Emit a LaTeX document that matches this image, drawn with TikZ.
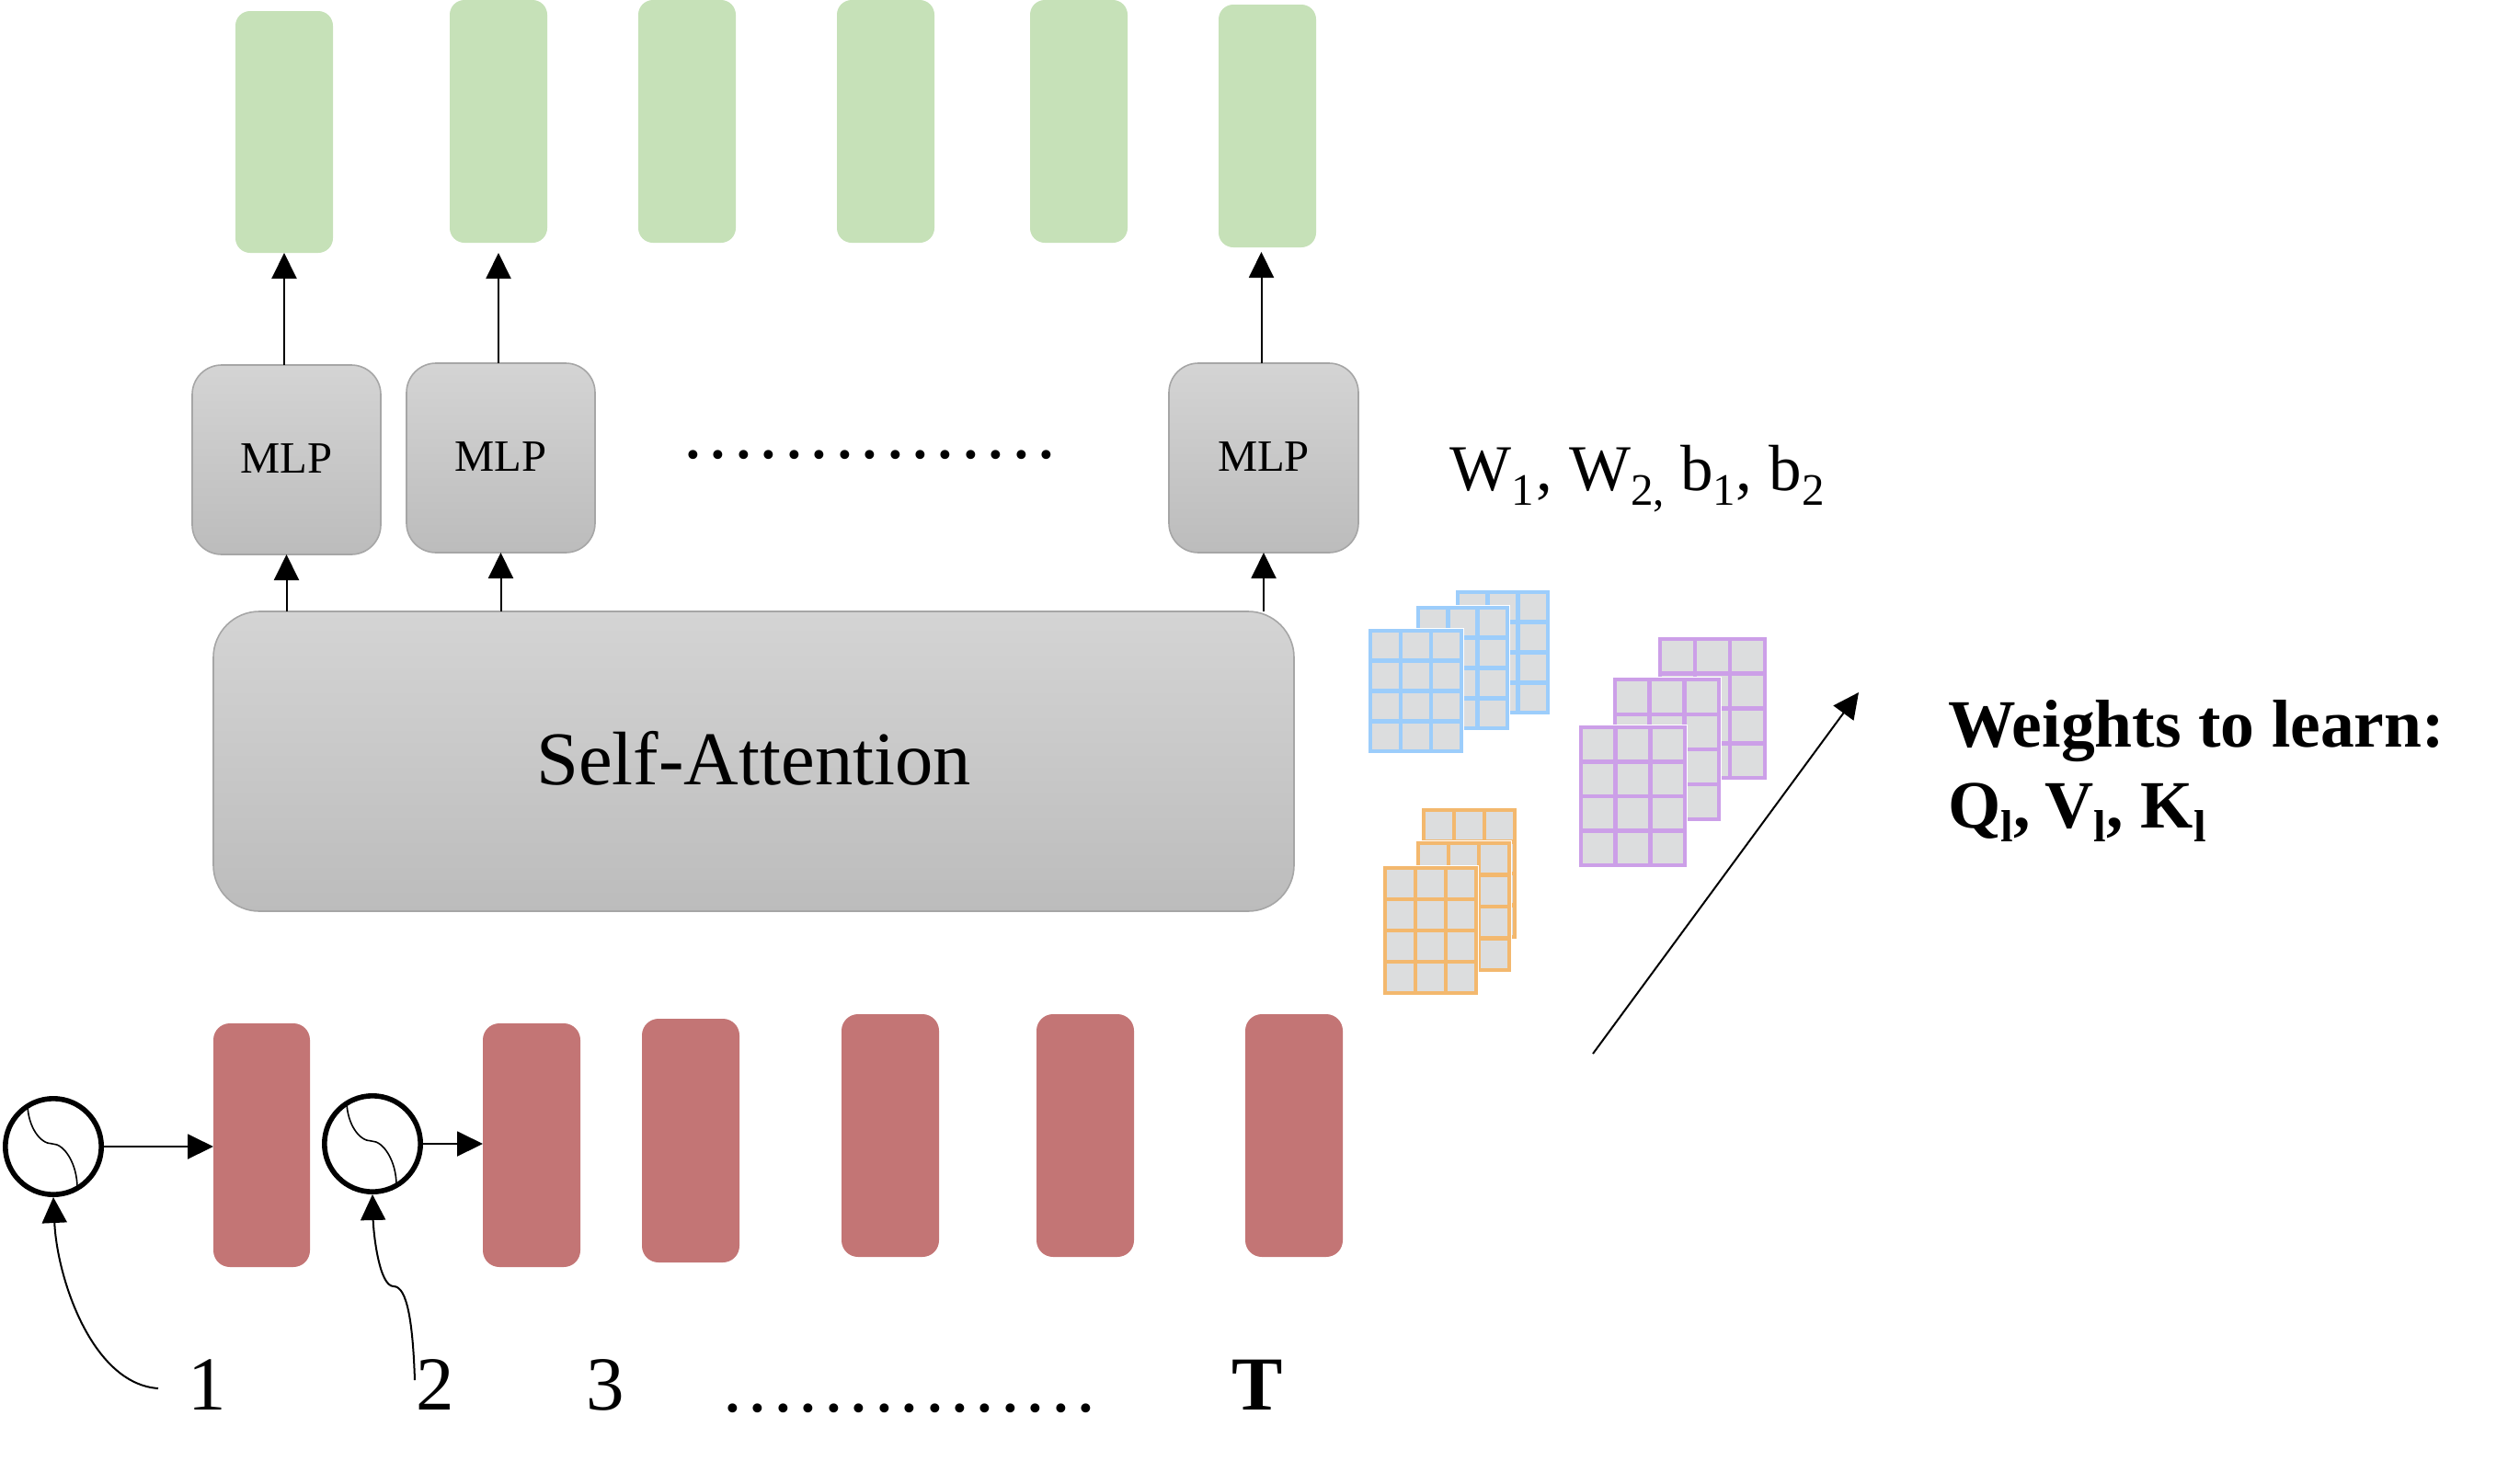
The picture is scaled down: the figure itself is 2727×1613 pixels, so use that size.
\documentclass[tikz,border=0pt]{standalone}
\usepackage{fontspec}
\setmainfont{Liberation Serif}
\usetikzlibrary{arrows.meta}
\definecolor{greenbox}{HTML}{C6E1B8}
\definecolor{redbox}{HTML}{C37575}
\definecolor{gridblue}{HTML}{9CCDFB}
\definecolor{gridpurple}{HTML}{CC9FE8}
\definecolor{gridorange}{HTML}{F3B86E}
\definecolor{cellgrey}{HTML}{DCDDDE}
\definecolor{greyedge}{HTML}{A6A6A6}
\definecolor{greytop}{HTML}{D4D4D4}
\definecolor{greybot}{HTML}{BCBCBC}
\tikzset{
  greenstyle/.style={fill=greenbox,rounded corners=8pt},
  redstyle/.style={fill=redbox,rounded corners=9pt},
  mlpstyle/.style={draw=greyedge,line width=0.8pt,top color=greytop,bottom color=greybot,rounded corners=16pt,font=\fontsize{24.3}{24.3}\selectfont},
  sastyle/.style={draw=greyedge,line width=0.8pt,top color=greytop,bottom color=greybot,rounded corners=25pt,font=\fontsize{41.3}{41.3}\selectfont},
  posstyle/.style={circle,draw=black,line width=2.8pt,fill=white,inner sep=0pt,minimum size=52.2pt},
  arrowline/.style={line width=1pt,-{Triangle[width=13.5pt,length=14pt]}},
  thinline/.style={line width=0.8pt},
  bigtext/.style={font=\fontsize{41.5}{41.5}\selectfont,inner sep=0pt,anchor=base},
  wtext/.style={font=\fontsize{35.5}{35.5}\selectfont,inner sep=0pt,anchor=base west},
  boldtext/.style={font=\bfseries\fontsize{36.8}{36.8}\selectfont,inner sep=0pt,anchor=base west}
}
\newcommand\boxat[7]{\node[#6,inner sep=0pt,outer sep=0pt,minimum width={(#4-#2)*0.5pt},minimum height={(#5-#3)*0.5pt}] (#1) at ({(#2+#4)/2},{(#3+#5)/2}) {#7};}
\newcommand\gridpanel[5]{%
  \fill[white] (#1-1,#2-1) rectangle (#3+1,#4+1);
  \draw[draw=#5,fill=cellgrey,line width=2.4pt] (#1+2,#2+2) rectangle (#3-2,#4-2);
  \foreach \gi in {1,2}{\draw[#5,line width=2.4pt] ({#1+2+(#3-#1-4)*\gi/3},#2+2) -- ({#1+2+(#3-#1-4)*\gi/3},#4-2);}
  \foreach \gj in {1,2,3}{\draw[#5,line width=2.4pt] (#1+2,{#2+2+(#4-#2-4)*\gj/4}) -- (#3-2,{#2+2+(#4-#2-4)*\gj/4});}
}
\newcommand\scurve[1]{\draw[thinline,shift={(#1.center)}] (-28,-44) .. controls (-27,-22) and (-15,-3) .. (-1,-3) .. controls (12,-3) and (26,19) .. (26,45);}
\newcommand\dotrow{.\kern3.35pt.\kern3.35pt.\kern3.35pt.\kern3.35pt.\kern3.35pt.\kern3.35pt.\kern3.35pt.\kern3.35pt.\kern3.35pt.\kern3.35pt.\kern3.35pt.\kern3.35pt.\kern3.35pt.\kern3.35pt.}
\newcommand\subw[1]{\raisebox{-8pt}{\fontsize{24.5}{24.5}\selectfont #1}}
\newcommand\subb[1]{\raisebox{-7.5pt}{\fontsize{24.5}{24.5}\selectfont #1}}
\begin{document}
\begin{tikzpicture}[x=0.5pt,y=-0.5pt]
\useasboundingbox (0,0) rectangle (2727,1613);
% output boxes
\boxat{g1}{256}{12}{362}{275}{greenstyle}{}
\boxat{g2}{489}{0}{595}{264}{greenstyle}{}
\boxat{g3}{694}{0}{800}{264}{greenstyle}{}
\boxat{g4}{910}{0}{1016}{264}{greenstyle}{}
\boxat{g5}{1120}{0}{1226}{264}{greenstyle}{}
\boxat{g6}{1325}{5}{1431}{269}{greenstyle}{}
% MLP
\boxat{m1}{209}{397}{414}{603}{mlpstyle}{MLP\rule[-1.5pt]{0pt}{0pt}}
\boxat{m2}{442}{395}{647}{601}{mlpstyle}{MLP\rule[-1.5pt]{0pt}{0pt}}
\boxat{m3}{1271}{395}{1477}{601}{mlpstyle}{MLP\rule[-1.5pt]{0pt}{0pt}}
% self attention
\boxat{sa}{232}{665}{1407}{991}{sastyle}{Self-Attention\rule[-3.5pt]{0pt}{0pt}}
% input boxes
\boxat{r1}{232}{1113}{337}{1378}{redstyle}{}
\boxat{r2}{525}{1113}{631}{1378}{redstyle}{}
\boxat{r3}{698}{1108}{804}{1373}{redstyle}{}
\boxat{r4}{915}{1103}{1021}{1367}{redstyle}{}
\boxat{r5}{1127}{1103}{1233}{1367}{redstyle}{}
\boxat{r6}{1354}{1103}{1460}{1367}{redstyle}{}
% position encoders
\node[posstyle] (c1) at (58,1247) {};
\node[posstyle] (c2) at (405,1244) {};
\scurve{c1}
\scurve{c2}
% labels
\node[bigtext] (l1) at (225,1533) {1};
\node[bigtext] (l2) at (473,1533) {2};
\node[bigtext] (l3) at (658,1533) {3};
\node[bigtext,font=\bfseries\fontsize{41.5}{41.5}\selectfont] (lt) at (1367,1533) {T};
\node[bigtext] (dotsb) at (989,1535) {\dotrow};
\node[bigtext] (dotst) at (946,498) {\dotrow};
\node[wtext] (wlabel) at (1576,533) {W\subw{1}\kern1.5pt,\kern8.7pt W\subw{2,}\kern8.7pt b\subw{1},\kern9.3pt b\subw{2}};
\node[boldtext] (wl1) at (2118,812) {Weights to learn:};
\node[boldtext] (wl2) at (2118,900) {Q\subb{l},\kern8pt V\subb{l},\kern9.5pt K\subb{l}};
% connectors
\draw[arrowline] ([xshift=-1.25pt]m1.north) -- ([xshift=-1.25pt]m1.north |- g1.south);
\draw[arrowline,shorten >=5.5pt] ([xshift=-1.25pt]m2.north) -- ([xshift=-1.25pt]m2.north |- g2.south);
\draw[arrowline,shorten >=2.5pt] ([xshift=-1.25pt]m3.north) -- ([xshift=-1.25pt]m3.north |- g6.south);
\draw[arrowline] (m1.south |- sa.north) -- (m1.south);
\draw[arrowline] (m2.south |- sa.north) -- (m2.south);
\draw[arrowline] (m3.south |- sa.north) -- (m3.south);
\draw[arrowline] (c1.east) -- (c1.east -| r1.west);
\draw[arrowline] (c2.east) -- (c2.east -| r2.west);
\coordinate (s1) at (172,1510);
\coordinate (s2) at (451,1501);
\coordinate (k2) at (428,1399);
\draw[arrowline] (s1) .. controls (100,1505) and (62,1390) .. (c1.south);
\draw[arrowline] (s2) .. controls (449,1440) and (443,1399) .. (k2) .. controls (412,1399) and (406,1340) .. (c2.south);
% parameter panels
\gridpanel{1583}{642}{1685}{777}{gridblue}
\gridpanel{1540}{659}{1641}{794}{gridblue}
\gridpanel{1488}{684}{1591}{819}{gridblue}
\gridpanel{1803}{693}{1921}{848}{gridpurple}
\gridpanel{1754}{737}{1871}{893}{gridpurple}
\gridpanel{1717}{789}{1834}{943}{gridpurple}
\gridpanel{1546}{879}{1649}{1021}{gridorange}
\gridpanel{1540}{915}{1643}{1057}{gridorange}
\gridpanel{1504}{942}{1607}{1082}{gridorange}
% learning arrow
\coordinate (a0) at (1732,1146);
\coordinate (a1) at (2021,753);
\draw[arrowline] (a0) -- (a1);
\end{tikzpicture}
\end{document}
